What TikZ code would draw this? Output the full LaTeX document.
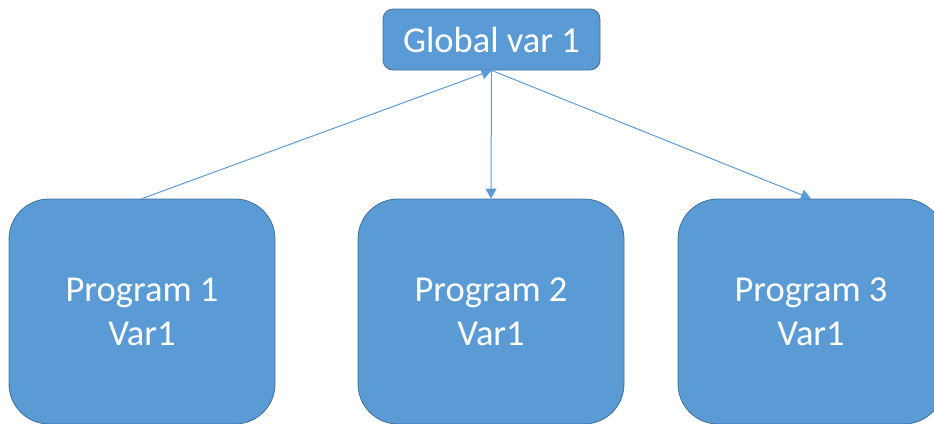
\documentclass[tikz,border=0pt]{standalone}
\usepackage{fontspec}
\setmainfont{Carlito}
\usetikzlibrary{arrows.meta}
\definecolor{boxfill}{HTML}{5B9BD5}
\definecolor{boxedge}{HTML}{41719C}
\tikzset{
  varbox/.style={draw=boxedge, line width=0.8pt, fill=boxfill, text=white,
    rectangle, rounded corners=10pt, minimum width=217pt, minimum height=61pt,
    inner sep=0pt, font=\fontsize{36.5}{44}\selectfont},
  progbox/.style={draw=boxedge, line width=0.8pt, fill=boxfill, text=white,
    rectangle, rounded corners=40pt, minimum width=266pt, minimum height=225pt,
    inner sep=0pt, align=center, font=\fontsize{36.5}{44}\selectfont},
  link/.style={draw=boxfill, line width=1pt, -{Triangle[length=10pt,width=11pt]}}
}
\begin{document}
\begin{tikzpicture}[x=1pt,y=-1pt]
  \useasboundingbox (0,0) rectangle (934,423);
  \node[varbox] (g) at (491.5,39.5) {Global var 1};
  \node[progbox] (p1) at (142,311.5) {Program 1\\Var1};
  \node[progbox] (p2) at (491,311.5) {Program 2\\Var1};
  \node[progbox] (p3) at (811,311.5) {Program 3\\Var1};
  \draw[link] (p1.north) -- (g.south);
  \draw[link] (g.south) -- (p2.north);
  \draw[link] (g.south) -- (p3.north);
\end{tikzpicture}
\end{document}
